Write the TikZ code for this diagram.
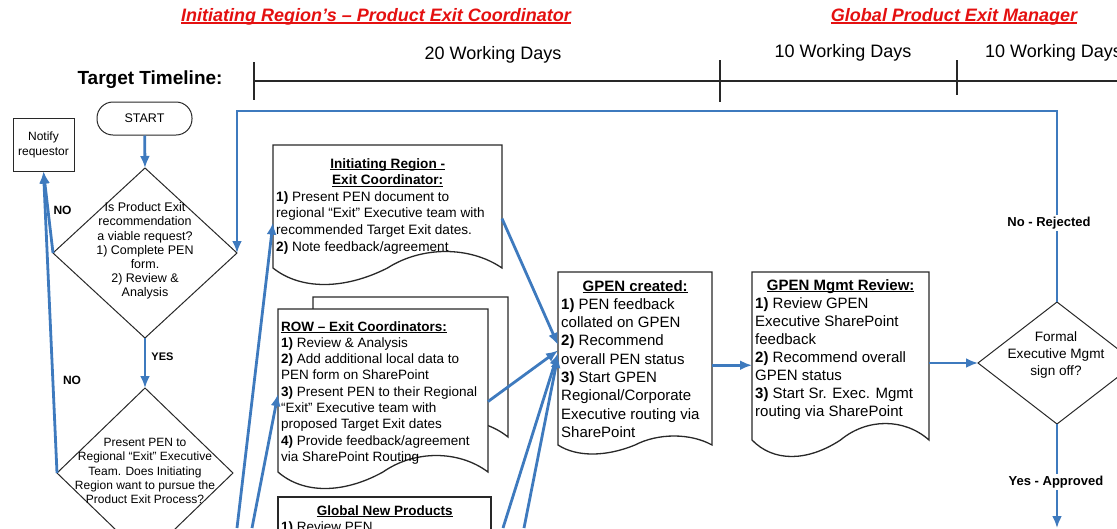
\documentclass[tikz,border=0pt]{standalone}
\usepackage{fontspec}
\setmainfont{Liberation Sans}
\usetikzlibrary{arrows.meta,shapes.geometric,calc}

\definecolor{flowblue}{RGB}{62,122,190}
\definecolor{titlered}{RGB}{228,16,16}
\definecolor{lineink}{RGB}{40,40,40}

\tikzset{
  flow/.style={draw=flowblue, line width=2.8, -{Latex[length=12pt,width=10pt]}},
  docline/.style={draw=lineink, line width=1.3, fill=white},
  frame/.style={rectangle, inner sep=0, outer sep=0},
  decision/.style={diamond, draw=lineink, line width=1, inner sep=0, outer sep=0},
  bodytext/.style={anchor=base west, inner sep=0, align=flush left},
  tag/.style={font=\bfseries\fontsize{13}{15}\selectfont, fill=white, inner sep=1.5},
  title/.style={font=\bfseries\itshape\fontsize{18}{22}\selectfont, text=titlered},
  tick/.style={draw=lineink, line width=1.8}
}

% underline with a chosen thickness
\newcommand{\ruled}[2]{\setbox0=\hbox{#2}\rlap{\rule[-2.3pt]{\wd0}{#1}}\box0}
\newcommand{\boxhead}[1]{\makebox[\linewidth]{\ruled{1pt}{\textbf{#1}}}}

% document shape with a wavy bottom, drawn round a frame node
\newcommand{\docoutline}[2]{%
  \draw[docline] (#1.south west) -- (#1.north west) -- (#1.north east) -- (#1.south east)
    .. controls ($(#1.south west)!0.86!(#1.south east)+(0,-#2)$) and ($(#1.south west)!0.65!(#1.south east)+(0,-#2)$) .. ($(#1.south west)!0.5!(#1.south east)$)
    .. controls ($(#1.south west)!0.31!(#1.south east)+(0,#2)$) and ($(#1.south west)!0.12!(#1.south east)+(0,#2)$) .. (#1.south west) -- cycle;}

\begin{document}
\begin{tikzpicture}[x=1pt, y=-1pt]
\useasboundingbox (0,0) rectangle (1117,528);
\clip (0,0) rectangle (1117,528);

% titles
\node[title] (leftTitle) at (376,17) {\ruled{1.5pt}{Initiating Region’s – Product Exit Coordinator}};
\node[title] (rightTitle) at (954,17) {\ruled{1.5pt}{Global Product Exit Manager}};

% timeline
\node[font=\bfseries\fontsize{19}{23}\selectfont] (timeline) at (150,80) {Target Timeline:};
\coordinate (tStart) at (254,81);
\coordinate (tEnd) at (1117,81);
\draw[draw=lineink, line width=1.5] (tStart) -- (tEnd);
\draw[tick] (254,62) -- (254,100);
\draw[tick] (720,60) -- (720,102);
\draw[tick] (957,60) -- (957,95);
\node[font=\fontsize{18}{22}\selectfont] (daysA) at (493,55) {20 Working Days};
\node[font=\fontsize{18}{22}\selectfont] (daysB) at (843,53) {10 Working Days};
\node[font=\fontsize{18}{22}\selectfont, anchor=west, inner sep=0] (daysC) at (985,53) {10 Working Days};

% left decisions
\node[draw=lineink, line width=1, rounded corners=16, minimum width=95, minimum height=33, font=\fontsize{12.5}{15}\selectfont] (start) at (144.5,118.5) {START};
\node[draw=lineink, line width=1, minimum width=61, minimum height=53, font=\fontsize{12}{15}\selectfont, align=center] (notify) at (43.5,144.5) {Notify\\requestor};

\node[decision, minimum width=184, minimum height=170] (viable) at (145,253) {};
\node[font=\fontsize{12.5}{14.2}\selectfont, align=center, inner sep=0] (viableText) at (145,251)
  {Is Product Exit\\recommendation\\a viable request?\\1) Complete PEN\\form.\\2) Review \&\\Analysis};

\node[decision, minimum width=176, minimum height=170] (pursue) at (145,473) {};
\node[font=\fontsize{12}{14.4}\selectfont, align=center, inner sep=0] (pursueText) at (145,471)
  {Present PEN to\\Regional “Exit” Executive\\Team. Does Initiating\\Region want to pursue the\\Product Exit Process?};

% regional documents
\node[frame, minimum width=229, minimum height=123] (initBox) at (387.5,206.5) {};
\docoutline{initBox}{22}
\node[bodytext, text width=223, font=\fontsize{13.6}{16.6}\selectfont] (initText) at (276,168)
  {\boxhead{Initiating Region -}\\\boxhead{Exit Coordinator:}\\\textbf{1)} Present PEN document to\\regional “Exit” Executive team with\\recommended Target Exit dates.\\\textbf{2)} Note feedback/agreement};

\node[frame, minimum width=195, minimum height=140] (rowBack) at (410.5,367) {};
\docoutline{rowBack}{22}
\node[frame, minimum width=210, minimum height=163] (rowBox) at (383,390.5) {};
\docoutline{rowBox}{22}
\node[bodytext, text width=204, font=\fontsize{13.5}{16.3}\selectfont] (rowText) at (281,331)
  {\ruled{1pt}{\textbf{ROW – Exit Coordinators:}}\\\textbf{1)} Review \& Analysis\\\textbf{2)} Add additional local data to\\PEN form on SharePoint\\\textbf{3)} Present PEN to their Regional\\“Exit” Executive team with\\proposed Target Exit dates\\\textbf{4)} Provide feedback/agreement\\via SharePoint Routing};

\node[frame, draw=lineink, line width=1.3, minimum width=213, minimum height=100] (gnpBox) at (384.5,547) {};
\node[bodytext, text width=207, font=\fontsize{13.5}{16.3}\selectfont] (gnpText) at (281,515)
  {\boxhead{Global New Products}\\\textbf{1)} Review PEN};

% global documents
\node[frame, minimum width=154, minimum height=173] (gpenBox) at (635,358.5) {};
\docoutline{gpenBox}{12}
\node[bodytext, text width=148, font=\fontsize{15}{18.3}\selectfont] (gpenText) at (561,291)
  {\boxhead{GPEN created:}\\\textbf{1)} PEN feedback\\collated on GPEN\\\textbf{2)} Recommend\\overall PEN status\\\textbf{3)} Start GPEN\\Regional/Corporate\\Executive routing via\\SharePoint};

\node[frame, minimum width=177, minimum height=168] (mgmtBox) at (840.5,356) {};
\docoutline{mgmtBox}{22}
\node[bodytext, text width=171, font=\fontsize{15}{18.1}\selectfont] (mgmtText) at (755,290)
  {\boxhead{GPEN Mgmt Review:}\\\textbf{1)} Review GPEN\\Executive SharePoint\\feedback\\\textbf{2)} Recommend overall\\GPEN status\\\textbf{3)} Start Sr. Exec. Mgmt\\routing via SharePoint};

\node[decision, minimum width=158, minimum height=122] (formal) at (1057,363) {};
\node[font=\fontsize{13.6}{17}\selectfont, align=center, inner sep=0] (formalText) at (1056,355)
  {Formal\\Executive Mgmt\\sign off?};

% connectors
\coordinate (fromBelowA) at (237,528);
\coordinate (fromBelowB) at (252,528);
\coordinate (fromBelowC) at (503,528);
\coordinate (fromBelowD) at (524,528);

\draw[flow] (start) -- (viable.north);
\draw[flow] (viable.south) -- (pursue.north);
\draw[flow] (viable.west) -- (notify.south);
\draw[flow] (pursue.west) -- (notify.south);
\draw[flow] (fromBelowA) -- (initBox.188);
\draw[flow] (fromBelowB) -- (rowBox.182);
\draw[flow] (initBox.354) -- (gpenBox.170);
\draw[flow] (rowBox.354) -- (gpenBox.174);
\draw[flow] (fromBelowC) -- (gpenBox.176);
\draw[flow] (fromBelowD) -- (gpenBox.178);
\draw[flow] (gpenBox.355) -- (gpenBox.355 -| mgmtBox.west);
\draw[flow] (mgmtBox.east |- formal.west) -- (formal.west);
\draw[flow] (formal.north) -- (formal.north |- 0,111) -| (viable.east);
\draw[flow] (formal.south) -- (formal.south |- 0,528);

% labels on the connectors
\node[tag, font=\bfseries\fontsize{12}{14}\selectfont, fill=none] (noA) at (62.5,210) {NO};
\node[tag, font=\bfseries\fontsize{12}{14}\selectfont, fill=none] (noB) at (72,380) {NO};
\node[tag, font=\bfseries\fontsize{11}{13}\selectfont, fill=none] (yesA) at (162.5,357) {YES};
\node[tag] (rejected) at (1049,223) {No - Rejected};
\node[tag] (approved) at (1056,482) {Yes - Approved};

\end{tikzpicture}
\end{document}
